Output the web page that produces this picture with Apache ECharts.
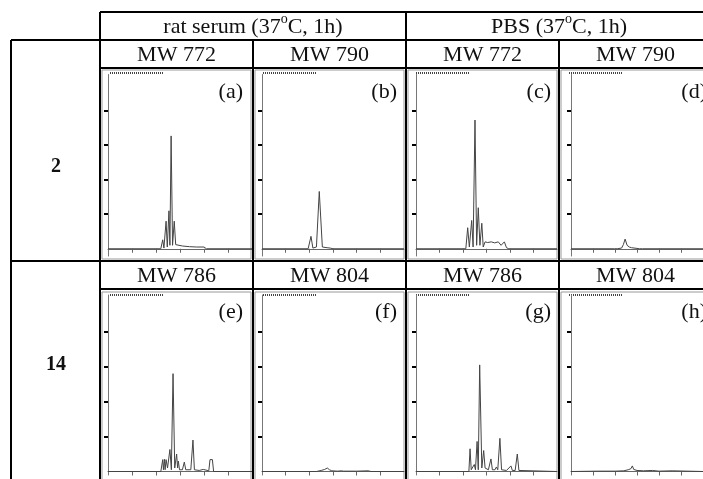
<!DOCTYPE html>
<html>
<head>
<meta charset="utf-8">
<title>chromatograms</title>
<script src="https://cdn.jsdelivr.net/npm/echarts@6/dist/echarts.min.js"></script>
<style>
  body { margin: 0; background: #fff; }
  #main { width: 703px; height: 479px; }
</style>
</head>
<body>
<div id="main"></div>
<script>
// 表头
var groupTitles = ['rat serum (37{sup|o}C, 1h)', 'PBS (37{sup|o}C, 1h)'];
var rowNames = ['2', '14'];
var mwRow1 = ['MW 772', 'MW 790', 'MW 772', 'MW 790'];
var mwRow2 = ['MW 786', 'MW 804', 'MW 786', 'MW 804'];
var panelNames = ['(a)', '(b)', '(c)', '(d)', '(e)', '(f)', '(g)', '(h)'];
var yTicks = [1, 2, 3, 4];
var xTicks = [1, 2, 3, 4, 5];

// 色谱曲线 [保留时间, 强度]
var traceA = [[0,0],[2.2,0],[2.28,0.26],[2.33,0.02],[2.42,0.8],[2.47,0.05],[2.54,1.1],[2.58,0.1],[2.63,3.27],[2.69,0.1],[2.76,0.8],[2.82,0.12],[2.9,0.14],[3.1,0.08],[3.4,0.06],[3.7,0.05],[4.0,0.05],[4.1,0],[6,0]];
var traceB = [[0,0],[1.95,0],[2.07,0.36],[2.15,0.02],[2.3,0.05],[2.42,1.66],[2.55,0.05],[2.75,0.03],[2.83,0.06],[2.88,0.02],[2.93,0.06],[3.0,0],[6,0]];
var traceC = [[0,0],[2.12,0],[2.2,0.61],[2.27,0.05],[2.37,0.82],[2.43,0.05],[2.51,3.73],[2.58,0.1],[2.65,1.19],[2.72,0.1],[2.8,0.74],[2.86,0.05],[2.94,0.2],[3.05,0.18],[3.2,0.2],[3.35,0.17],[3.5,0.2],[3.62,0.1],[3.76,0.2],[3.85,0.03],[3.95,0],[6,0]];
var traceD = [[0,0],[1.98,0],[2.03,0.04],[2.1,0],[2.3,0.02],[2.38,0.12],[2.46,0.28],[2.55,0.1],[2.65,0.05],[2.75,0.03],[3.0,0.01],[3.06,0.05],[3.12,0],[3.2,0.04],[3.26,0],[6,0]];
var traceE = [[0,0],[2.2,0],[2.28,0.34],[2.31,0.05],[2.35,0.35],[2.38,0.05],[2.42,0.34],[2.48,0.1],[2.58,0.63],[2.64,0.05],[2.71,2.8],[2.78,0.1],[2.86,0.5],[2.9,0.1],[2.93,0.3],[2.98,0.05],[3.04,0.1],[3.1,0.05],[3.18,0.27],[3.24,0.05],[3.32,0.05],[3.45,0.05],[3.54,0.9],[3.6,0.05],[3.65,0.1],[3.8,0.03],[3.97,0.06],[4.05,0.02],[4.2,0.02],[4.25,0.34],[4.35,0.34],[4.4,0],[6,0]];
var traceF = [[0,0],[2.3,0],[2.5,0.03],[2.65,0.06],[2.76,0.1],[2.85,0.05],[2.95,0.02],[3.2,0.01],[3.35,0.02],[3.4,0.06],[3.45,0.01],[4.0,0.01],[4.5,0.02],[4.6,0],[6,0]];
var traceG = [[0,0],[2.25,0],[2.3,0.65],[2.35,0.05],[2.4,0.07],[2.48,0.2],[2.53,0.05],[2.6,0.86],[2.65,0.05],[2.71,3.05],[2.8,0.1],[2.88,0.6],[2.94,0.1],[3.0,0.13],[3.08,0.05],[3.19,0.36],[3.25,0.05],[3.3,0.1],[3.36,0.05],[3.42,0.13],[3.48,0.05],[3.57,0.95],[3.64,0.05],[3.72,0.08],[3.85,0.03],[4.04,0.16],[4.1,0.03],[4.15,0.05],[4.22,0.03],[4.31,0.5],[4.38,0.03],[4.4,0],[6,0]];
var traceH = [[0,0],[1.2,0.01],[2.0,0.01],[2.4,0.02],[2.6,0.05],[2.72,0.08],[2.79,0.16],[2.85,0.06],[3.0,0.03],[3.3,0.02],[3.7,0.03],[4.0,0.01],[4.6,0.02],[6,0]];

var traces = [traceA, traceB, traceC, traceD, traceE, traceF, traceG, traceH];

function drawTable(){
    var myChart = echarts.init(document.getElementById('main'));

    // 版面位置
    var colLeft = [100, 253, 406, 559];
    var axisX = [108, 262, 416, 571];
    var axisW = [144, 142, 141, 140];
    var labelRight = [243, 397, 551, 707];
    var rowTop = [74.5, 295];
    var rowH = [181.5, 180];
    var yMin = [-0.21, -0.1];
    var frameTop = [70, 292];
    var frameBottom = [259, 485];
    var serif = '"Liberation Serif", "DejaVu Serif", serif';

    var grids = [], xAxes = [], yAxes = [], series = [];
    var graphic = [];

    for (var i = 0; i < 8; i++) {
        var c = i % 4, r = Math.floor(i / 4);
        grids.push({left: axisX[c], top: rowTop[r], width: axisW[c], height: rowH[r]});
        xAxes.push({
            type: 'value', gridIndex: i, min: 0, max: 6,
            axisLine: {lineStyle: {color: '#666', width: 1}},
            axisTick: {customValues: xTicks, length: 4, lineStyle: {color: '#666'}},
            axisLabel: {show: false},
            splitLine: {show: false}
        });
        yAxes.push({
            type: 'value', gridIndex: i, min: yMin[r], max: 5.05,
            axisLine: {show: true, lineStyle: {color: '#777', width: 1}},
            axisTick: {customValues: yTicks, length: 4, lineStyle: {color: '#000', width: 2}},
            axisLabel: {show: false},
            splitLine: {show: false}
        });
        series.push({
            type: 'line', xAxisIndex: i, yAxisIndex: i,
            data: traces[i], symbol: 'none', silent: true,
            lineStyle: {color: '#444', width: 1}
        });

        // 每个小图的外框和左上角小字
        graphic.push({
            type: 'rect', silent: true,
            shape: {x: colLeft[c] + 2, y: frameTop[r], width: 149, height: frameBottom[r] - frameTop[r]},
            style: {fill: null, stroke: '#999', lineWidth: 1}
        });
        graphic.push({
            type: 'line', silent: true,
            shape: {x1: colLeft[c] + 10, y1: frameTop[r] + 3, x2: colLeft[c] + 63, y2: frameTop[r] + 3},
            style: {stroke: '#444', lineWidth: 2, lineDash: [1, 1]}
        });
        graphic.push({
            type: 'text', silent: true,
            style: {
                text: panelNames[i], x: labelRight[c], y: r === 0 ? 92 : 312,
                font: '22px ' + serif, fill: '#111',
                textAlign: 'right', textVerticalAlign: 'middle'
            }
        });
    }

    // 表格线
    var lines = [
        [100, 12, 703, 12], [11, 40, 703, 40], [100, 68, 703, 68],
        [11, 261, 703, 261], [100, 289, 703, 289],
        [11, 40, 11, 479], [100, 12, 100, 479], [253, 40, 253, 479],
        [406, 12, 406, 479], [559, 40, 559, 479]
    ];
    lines.forEach(function (l) {
        graphic.push({
            type: 'line', silent: true, z: 10,
            shape: {x1: l[0], y1: l[1], x2: l[2], y2: l[3]},
            style: {stroke: '#000', lineWidth: 2}
        });
    });

    var headerX = [253, 559];
    groupTitles.forEach(function (t, k) {
        graphic.push({
            type: 'text', silent: true,
            style: {
                text: t, x: headerX[k], y: 27.5, font: '22px ' + serif, fill: '#111',
                lineHeight: 30,
                textAlign: 'center', textVerticalAlign: 'middle',
                rich: {sup: {fontSize: 14, fontFamily: serif, lineHeight: 14, verticalAlign: 'top', fill: '#111'}}
            }
        });
    });

    for (var c2 = 0; c2 < 4; c2++) {
        graphic.push({
            type: 'text', silent: true,
            style: {text: mwRow1[c2], x: colLeft[c2] + 76.5, y: 55, font: '22px ' + serif, fill: '#111', textAlign: 'center', textVerticalAlign: 'middle'}
        });
        graphic.push({
            type: 'text', silent: true,
            style: {text: mwRow2[c2], x: colLeft[c2] + 76.5, y: 276, font: '22px ' + serif, fill: '#111', textAlign: 'center', textVerticalAlign: 'middle'}
        });
    }

    var rowY = [167, 365];
    rowNames.forEach(function (t, k) {
        graphic.push({
            type: 'text', silent: true,
            style: {text: t, x: 56, y: rowY[k], font: 'bold 20px ' + serif, fill: '#111', textAlign: 'center', textVerticalAlign: 'middle'}
        });
    });

    var option = {
        animation: false,
        grid: grids,
        xAxis: xAxes,
        yAxis: yAxes,
        series: series,
        graphic: graphic
    };
    myChart.setOption(option);
}

drawTable();
</script>
</body>
</html>
